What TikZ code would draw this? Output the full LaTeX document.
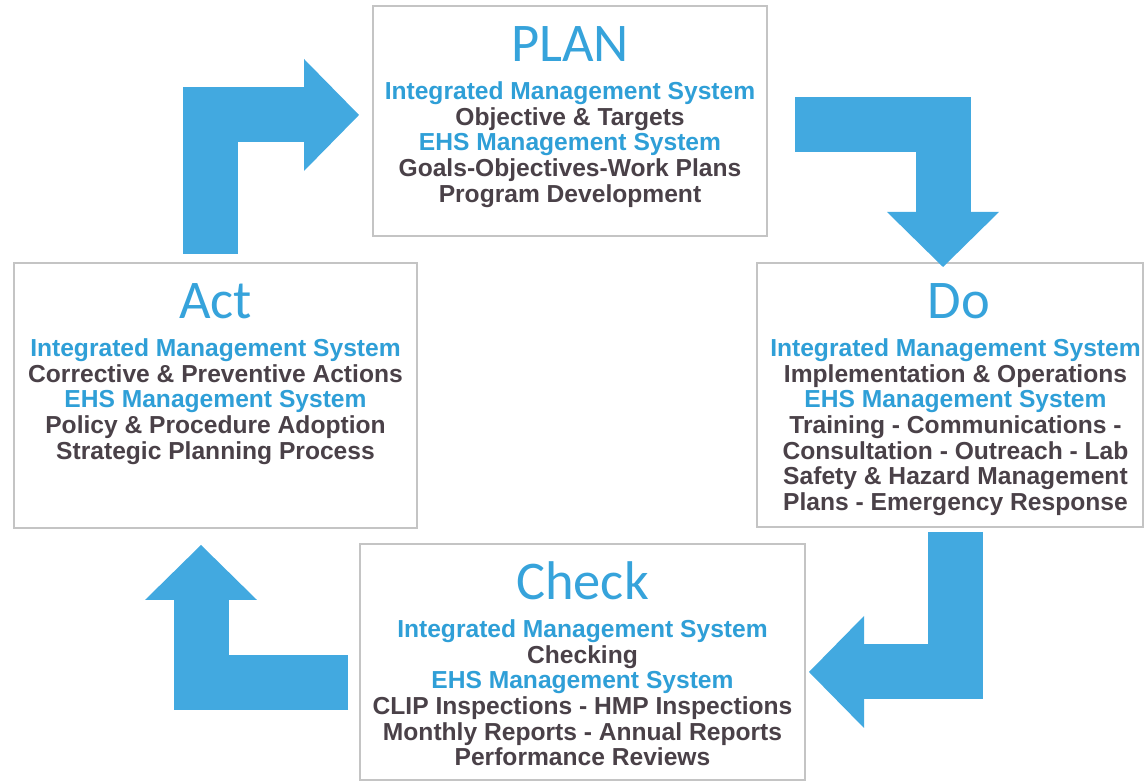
\documentclass[tikz,border=0pt]{standalone}
\usepackage{fontspec}
\setmainfont{Liberation Sans}
\newfontfamily\ttlfont{Carlito}
\usetikzlibrary{arrows.meta, calc}
\definecolor{flowblue}{HTML}{42A9E0}
\definecolor{ttlblue}{HTML}{36A3DB}
\definecolor{imsblue}{HTML}{2F9FD7}
\definecolor{txtgray}{HTML}{4A4148}
\definecolor{boxgray}{HTML}{C4C4C4}
\tikzset{
    box/.style={draw=boxgray, fill=white, line width=0.6pt, inner sep=0pt},
    ttl/.style={anchor=base, text=ttlblue, font=\ttlfont\fontsize{31}{31}\selectfont},
    body/.style={anchor=north, align=center, inner sep=0pt, text=txtgray, font=\bfseries\fontsize{14}{14.6}\selectfont},
    flow/.style={draw=flowblue, line width=1.1cm, -{Triangle[length=1.1cm, width=2.24cm, line width=0pt]}}
}

\begin{document}
\begin{tikzpicture}
    \useasboundingbox (0,0) rectangle (22.88,15.62);

    % the four stages
    \node[box, minimum width=7.88cm, minimum height=4.60cm] (plan) at (11.40,13.20) {};
    \node[box, minimum width=8.06cm, minimum height=5.30cm] (act) at (4.31,7.71) {};
    \node[box, minimum width=7.72cm, minimum height=5.28cm] (do) at (19.00,7.72) {};
    \node[box, minimum width=8.90cm, minimum height=4.72cm] (check) at (11.65,2.38) {};

    \node[ttl] (tplan) at ($(plan.north)+(0,-1.13)$) {PLAN};
    \node[ttl] (tact) at ($(act.north)+(0,-1.13)$) {Act};
    \node[ttl] (tdo) at ($(do.north)+(0.18,-1.13)$) {Do};
    \node[ttl] (tcheck) at ($(check.north)+(0,-1.13)$) {Check};

    \node[body] (bplan) at ($(plan.north)+(0,-1.52)$) {%
        \textcolor{imsblue}{Integrated Management System}\\
        Objective \& Targets\\
        \textcolor{imsblue}{EHS Management System}\\
        Goals-Objectives-Work Plans\\
        Program Development};
    \node[body] (bact) at ($(act.north)+(0,-1.52)$) {%
        \textcolor{imsblue}{Integrated Management System}\\
        Corrective \& Preventive Actions\\
        \textcolor{imsblue}{EHS Management System}\\
        Policy \& Procedure Adoption\\
        Strategic Planning Process};
    \node[body] (bdo) at ($(do.north)+(0.11,-1.52)$) {%
        \textcolor{imsblue}{Integrated Management System}\\
        Implementation \& Operations\\
        \textcolor{imsblue}{EHS Management System}\\
        Training - Communications -\\
        Consultation - Outreach - Lab\\
        Safety \& Hazard Management\\
        Plans - Emergency Response};
    \node[body] (bcheck) at ($(check.north)+(0,-1.52)$) {%
        \textcolor{imsblue}{Integrated Management System}\\
        Checking\\
        \textcolor{imsblue}{EHS Management System}\\
        CLIP Inspections - HMP Inspections\\
        Monthly Reports - Annual Reports\\
        Performance Reviews};

    % ends of the cycle arrows
    \coordinate (a1) at (4.20,10.54);  \coordinate (p1) at (7.18,13.32);
    \coordinate (p2) at (15.90,13.12); \coordinate (d1) at (18.86,10.28);
    \coordinate (d2) at (19.11,4.98);  \coordinate (c1) at (16.18,2.18);
    \coordinate (c2) at (6.96,1.96);   \coordinate (a2) at (4.02,4.72);

    \draw[flow] (a1) |- (p1);
    \draw[flow] (p2) -| (d1);
    \draw[flow] (d2) |- (c1);
    \draw[flow] (c2) -| (a2);
\end{tikzpicture}
\end{document}
